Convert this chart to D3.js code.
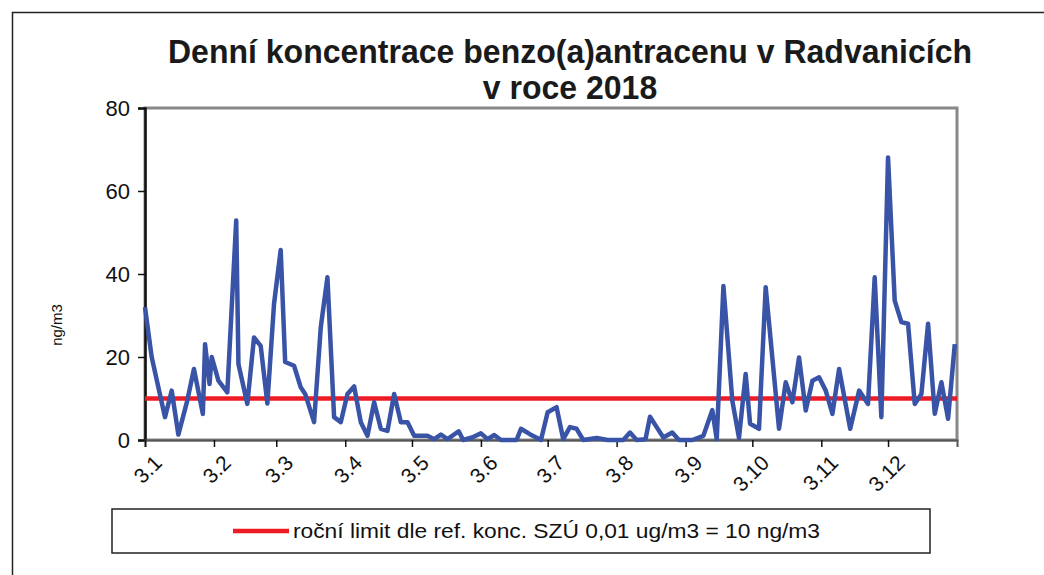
<!DOCTYPE html>
<html lang="cs">
<head>
    <meta charset="UTF-8">
    <title>Benzo(a)antracen Radvanice 2018</title>
    <script src="https://cdn.jsdelivr.net/npm/d3@7"></script>
    <style>
        body { margin: 0; background: #fff; }
        svg { font-family: "Liberation Sans", Arial, sans-serif; }
    </style>
</head>
<body>
    <script>
        // den v roce (1 = 1.1.2018) a naměřená koncentrace ng/m3
        var dayOfYear = [1, 4, 7, 10, 13, 16, 20, 23, 27, 28, 30, 31, 34, 38, 42, 43, 47, 50, 53, 56,
            59, 62, 64, 68, 71, 73, 77, 80, 83, 86, 89, 92, 95, 98, 101, 104, 107, 110, 113, 116,
            119, 122, 128, 131, 134, 137, 142, 144, 148, 152, 155, 158, 161, 168, 170, 174, 179, 182, 186, 189,
            192, 195, 198, 204, 209, 216, 219, 222, 226, 228, 231, 234, 238, 241, 247, 252, 256, 258, 261, 265,
            268, 271, 273, 277, 280, 286, 289, 292, 295, 298, 301, 304, 307, 310, 313, 318, 322, 326, 329, 332,
            335, 338, 341, 344, 347, 350, 353, 356, 359, 362, 365];
        var values = [32, 20, 12.7, 5.5, 11.9, 1.3, 9.5, 17.1, 6.3, 23.1, 13.5, 20, 14.3, 11.5, 52.9, 18.3, 8.7, 24.7, 22.7, 8.8,
            32.8, 45.8, 18.8, 17.9, 12.7, 11.1, 4.3, 27.1, 39.2, 5.5, 4.3, 11.1, 12.9, 4.3, 1.0, 9.1, 2.7, 2.2, 11.1, 4.3,
            4.3, 1.0, 1.0, 0.2, 1.3, 0.2, 2.1, 0, 0.6, 1.6, 0.2, 1.2, 0, 0, 2.7, 1.4, 0, 6.7, 7.9, 0.2,
            3.1, 2.7, 0, 0.5, 0, 0, 1.8, 0, 0.2, 5.6, 3.1, 0.6, 1.8, 0, 0, 1.0, 7.2, 0.2, 37.1, 9.5,
            0.5, 15.9, 3.9, 2.7, 36.8, 2.7, 13.9, 9.1, 19.9, 7.1, 14.3, 15.1, 11.9, 6.3, 17.1, 2.7, 11.9, 8.7, 39.2, 5.5,
            68.1, 33.6, 28.4, 28, 8.7, 11.1, 28, 6.3, 13.9, 5.1, 23.1];
        var monthLabels = ["3.1", "3.2", "3.3", "3.4", "3.5", "3.6", "3.7", "3.8", "3.9", "3.10", "3.11", "3.12"];
        var yTicks = [0, 20, 40, 60, 80];
        var limit = 10;

        var titleLines = ["Denní koncentrace benzo(a)antracenu v Radvanicích", "v roce 2018"];
        var yTitle = "ng/m3";
        var legendText = "roční limit dle ref. konc. SZÚ 0,01 ug/m3 = 10 ng/m3";

        var width = 1044, height = 575;
        var plotLeft = 145, plotRight = 957, plotTop = 108, plotBottom = 440;
        var blue = "#3953a6", red = "#ed1c24";

        var start = new Date(2018, 0, 1);
        var data = dayOfYear.map(function(d, i) {
            return { date: d3.timeDay.offset(start, d - 1), value: values[i] };
        });

        var svg = d3.select("body").append("svg")
            .attr("width", width)
            .attr("height", height);

        // rámeček celého grafu
        svg.append("path")
            .attr("d", "M12.5,575V12.5H1044")
            .attr("fill", "none")
            .attr("stroke", "#222")
            .attr("stroke-width", 1.5);

        var x = d3.scaleTime()
            .domain([start, new Date(2019, 0, 1)])
            .range([plotLeft, plotRight]);
        var y = d3.scaleLinear()
            .domain([0, 80])
            .range([plotBottom, plotTop]);

        // titulek (v originále užší, vyšší písmo)
        var title = svg.append("g").attr("font-weight", "bold").attr("fill", "#1a1a1a")
            .attr("font-size", 33).attr("text-anchor", "middle");
        var t1 = title.append("text").attr("x", 570).attr("y", 63).text(titleLines[0]);
        var t2 = title.append("text").attr("x", 570).attr("y", 99).text(titleLines[1]);
        var squeeze = 804 / t1.node().getComputedTextLength();
        [t1, t2].forEach(function(t) {
            t.attr("textLength", t.node().getComputedTextLength() * squeeze)
             .attr("lengthAdjust", "spacingAndGlyphs");
        });

        // plocha grafu
        svg.append("rect")
            .attr("x", plotLeft).attr("y", plotTop)
            .attr("width", plotRight - plotLeft).attr("height", plotBottom - plotTop)
            .attr("fill", "none")
            .attr("stroke", "#888")
            .attr("stroke-width", 3);

        // osa y
        var yAxis = svg.append("g")
            .attr("transform", "translate(" + plotLeft + ",0)")
            .call(d3.axisLeft(y).tickValues(yTicks).tickSize(7).tickPadding(8));
        yAxis.select(".domain").attr("stroke", "#111").attr("stroke-width", 2.5);
        yAxis.selectAll(".tick line").attr("stroke", "#111").attr("stroke-width", 1.5);
        yAxis.selectAll("text").attr("font-size", 22).attr("fill", "#111")
            .attr("font-family", "Liberation Sans, Arial, sans-serif");

        svg.append("text")
            .attr("transform", "translate(62,325) rotate(-90)")
            .attr("text-anchor", "middle")
            .attr("font-size", 15)
            .attr("fill", "#111")
            .text(yTitle);

        // osa x - měsíce
        var months = d3.timeMonth.range(start, new Date(2019, 0, 1));
        var xAxis = svg.append("g")
            .attr("transform", "translate(0," + plotBottom + ")")
            .call(d3.axisBottom(x).tickValues(months).tickSize(7).tickFormat(""));
        xAxis.select(".domain").attr("stroke", "#555").attr("stroke-width", 2);
        xAxis.selectAll(".tick line").attr("stroke", "#111").attr("stroke-width", 1.5);

        svg.append("g")
            .selectAll("text")
            .data(months)
            .enter()
            .append("text")
            .attr("transform", function(d) {
                return "translate(" + (x(d) + 13) + "," + (plotBottom + 19) + ") rotate(-45)";
            })
            .attr("text-anchor", "end")
            .attr("dy", "0.35em")
            .attr("font-size", 21)
            .attr("fill", "#111")
            .text(function(d, i) { return monthLabels[i]; });

        // limit
        svg.append("line")
            .attr("x1", plotLeft).attr("x2", plotRight)
            .attr("y1", y(limit)).attr("y2", y(limit))
            .attr("stroke", red)
            .attr("stroke-width", 4.5);

        // denní hodnoty
        var line = d3.line()
            .x(function(d) { return x(d.date); })
            .y(function(d) { return y(d.value); });

        svg.append("path")
            .datum(data)
            .attr("d", line)
            .attr("fill", "none")
            .attr("stroke", blue)
            .attr("stroke-width", 4.5)
            .attr("stroke-linejoin", "round");

        // legenda
        var legend = svg.append("g");
        legend.append("rect")
            .attr("x", 112).attr("y", 509)
            .attr("width", 818).attr("height", 44)
            .attr("fill", "#fff")
            .attr("stroke", "#222")
            .attr("stroke-width", 1.5);
        legend.append("line")
            .attr("x1", 233).attr("x2", 289)
            .attr("y1", 531).attr("y2", 531)
            .attr("stroke", red)
            .attr("stroke-width", 4.5);
        legend.append("text")
            .attr("x", 293).attr("y", 538)
            .attr("font-size", 20)
            .attr("fill", "#111")
            .attr("textLength", 527)
            .attr("lengthAdjust", "spacingAndGlyphs")
            .text(legendText);
    </script>
</body>
</html>
